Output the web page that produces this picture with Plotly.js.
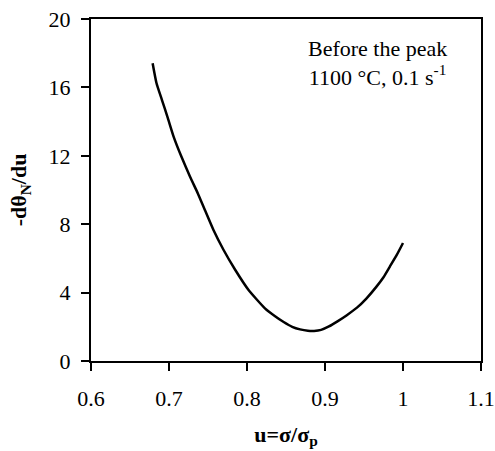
<!DOCTYPE html>
<html>
<head>
<meta charset="utf-8">
<script src="https://cdn.plot.ly/plotly-3.0.1.min.js"></script>
<style>html,body{margin:0;padding:0;background:#fff;}#chart{width:495px;height:451px;}</style>
</head>
<body>
<div id="chart"></div>
<script>
const uValues = [0.679, 0.684, 0.691, 0.698, 0.706, 0.716, 0.727, 0.737, 0.746, 0.757, 0.770, 0.785, 0.802, 0.823, 0.836, 0.847, 0.858, 0.868, 0.878, 0.886, 0.895, 0.905, 0.916, 0.928, 0.941, 0.953, 0.966, 0.975, 0.983, 0.992, 1.000];
const dThetaValues = [17.41, 16.24, 15.26, 14.28, 13.11, 11.94, 10.77, 9.8, 8.83, 7.66, 6.49, 5.32, 4.15, 3.08, 2.62, 2.28, 2.0, 1.85, 1.77, 1.76, 1.82, 2.02, 2.32, 2.68, 3.12, 3.65, 4.35, 4.9, 5.51, 6.2, 6.9];
const xTicks = [0.6, 0.7, 0.8, 0.9, 1, 1.1];
const xTickLabels = ["0.6", "0.7", "0.8", "0.9", "1", "1.1"];
const yTicks = [0, 4, 8, 12, 16, 20];
const yTickLabels = ["0", "4", "8", "12", "16", "20"];
const annotationLines = ["Before the peak", "1100 °C, 0.1 s<sup>-1</sup>"];

const serif = "Liberation Serif, Times New Roman, serif";
const trace = {
  x: uValues, y: dThetaValues, type: "scatter", mode: "lines",
  line: {color: "#000", width: 2.5, shape: "spline", smoothing: 0.5}, hoverinfo: "skip"
};
const layout = {
  width: 495, height: 451,
  margin: {l: 91, r: 14, t: 19, b: 90},
  paper_bgcolor: "#fff", plot_bgcolor: "#fff",
  showlegend: false,
  font: {family: serif, color: "#000", size: 22},
  xaxis: {
    range: [0.6, 1.1], tickvals: xTicks, ticktext: xTickLabels,
    showgrid: false, zeroline: false, showline: true, linecolor: "#000", linewidth: 2,
    mirror: true, ticks: "outside", ticklen: 8, tickwidth: 2, tickcolor: "#000",
    ticklabelstandoff: 9,
    tickfont: {family: serif, size: 22, color: "#000"},
    title: {text: "<b>u=σ/σ<sub>p</sub></b>", font: {family: serif, size: 22, color: "#000"}, standoff: 16}
  },
  yaxis: {
    range: [0, 20], tickvals: yTicks, ticktext: yTickLabels,
    showgrid: false, zeroline: false, showline: true, linecolor: "#000", linewidth: 2,
    mirror: true, ticks: "outside", ticklen: 8, tickwidth: 2, tickcolor: "#000",
    ticklabelstandoff: 6,
    tickfont: {family: serif, size: 22, color: "#000"},
    title: {text: "<b>-dθ<sub>N</sub>/du</b>", font: {family: serif, size: 22, color: "#000"}, standoff: 16}
  },
  annotations: [{
    xref: "paper", yref: "paper", x: 0.735, y: 0.87, xanchor: "center", yanchor: "middle",
    text: annotationLines.join("<br>"), showarrow: false, align: "center",
    font: {family: serif, size: 22, color: "#000"}
  }]
};
Plotly.newPlot("chart", [trace], layout, {displayModeBar: false, staticPlot: true});
</script>
</body>
</html>
